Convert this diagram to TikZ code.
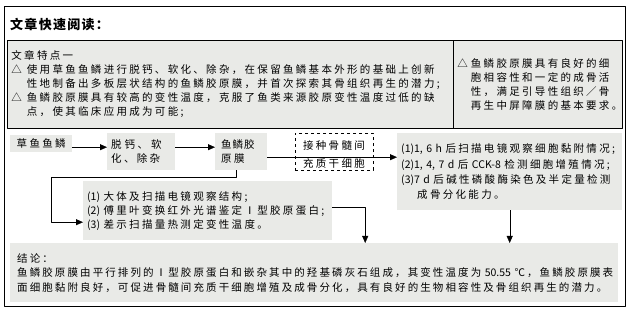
\documentclass[tikz,border=0pt]{standalone}
\usepackage{fontspec}
\setmainfont{Noto Sans CJK SC}[LetterSpace=22]
\newfontfamily\headfont[LetterSpace=10]{Noto Sans CJK SC}
\newfontfamily\numfont{Noto Sans CJK SC}
\usetikzlibrary{arrows.meta}
\definecolor{boxgray}{RGB}{233,234,231}

\begin{document}
\begin{tikzpicture}[x=1pt, y=-1pt, line join=round, >={Triangle[length=7pt,width=6pt]},
	font=\fontsize{10.5}{14}\selectfont,
	graybox/.style={fill=boxgray, inner xsep=4pt, inner ysep=0pt, align=left, anchor=north west},
	txt/.style={inner sep=0pt, align=left, anchor=west}]
	\useasboundingbox (0,0) rectangle (630,315);
	\draw[line width=1pt] (4,7) rectangle (625,307);
	\node[txt, font=\headfont\bfseries\fontsize{13}{15}\selectfont] (title) at (10,25) {文章快速阅读：};
	% article features
	\node[graybox, draw, line width=0.8pt, text width=438pt, minimum height=88pt] (featL) at (7,40)
		{文章特点一\\
		△\kern5pt 使用草鱼鱼鳞进行脱钙、软化、除杂，在保留鱼鳞基本外形的基础上创新\\
		\phantom{△}\kern5pt 性地制备出多板层状结构的鱼鳞胶原膜，并首次探索其骨组织再生的潜力;\\
		△\kern5pt 鱼鳞胶原膜具有较高的变性温度，克服了鱼类来源胶原变性温度过低的缺\\
		\phantom{△}\kern5pt 点，使其临床应用成为可能;};
	\node[graybox, draw, line width=0.8pt, text width=161pt, minimum height=88pt] (featR) at (453,40)
		{△\kern3pt 鱼鳞胶原膜具有良好的细\\
		\phantom{△}\kern3pt 胞相容性和一定的成骨活\\
		\phantom{△}\kern3pt 性，满足引导性组织／骨\\
		\phantom{△}\kern3pt 再生中屏障膜的基本要求。};
	% flow
	\node[graybox, align=center, text width=54pt, minimum height=17pt] (fish) at (10,135) {草鱼鱼鳞};
	\node[graybox, text width=60pt, minimum height=37pt] (treat) at (107,133)
		{脱\hspace{3pt}钙、\hspace{3pt}软\\化、除杂};
	\node[graybox, inner xsep=6pt, text width=40pt, minimum height=37pt] (memb) at (215,133)
		{鱼\hspace{1pt}鳞\hspace{1pt}胶\\原膜};
	\node[draw, dashed, anchor=north west, minimum width=78pt, minimum height=37pt] (cells) at (295,133) {};
	\node[inner sep=0pt] (cellsA) at (334,146) {接种骨髓间};
	\node[inner sep=0pt] (cellsB) at (334,164) {充质干细胞};
	\node[graybox, font=\fontsize{10.5}{15.3}\selectfont, text width=217pt, minimum height=77pt] (result) at (397,133)
		{{\numfont (1)1,~6~h}~后扫描电镜观察细胞黏附情况;\\
		{\numfont (2)1,~4,~7~d}~后~{\numfont CCK-8}~检测细胞增殖情况;\\
		{\numfont (3)7~d}~后碱性磷酸酶染色及半定量检测\\
		\hspace{16pt}成骨分化能力。};
	\node[graybox, text width=241pt, minimum height=59pt] (test) at (83,181)
		{{\numfont (1)}~大体及扫描电镜观察结构;\\
		{\numfont (2)}~傅里叶变换红外光谱鉴定Ⅰ型胶原蛋白;\\
		{\numfont (3)}~差示扫描量热测定变性温度。};
	\node[graybox, inner xsep=7pt, font=\fontsize{10.5}{14.5}\selectfont\addfontfeatures{LetterSpace=20}, text width=594pt, minimum height=59pt] (concl) at (10,243)
		{结论：\\
		鱼鳞胶原膜由平行排列的Ⅰ型胶原蛋白和嵌杂其中的羟基磷灰石组成，其变性温度为~{\numfont 50.55}~℃，鱼鳞胶原膜表\\
		面细胞黏附良好，可促进骨髓间充质干细胞增殖及成骨分化，具有良好的生物相容性及骨组织再生的潜力。};
	% connectors
	\coordinate (bend) at (51,177);
	\draw[->] ([yshift=-3.5pt]fish.east) -- ([yshift=-3.5pt]fish.east -| treat.west);
	\draw[->] ([yshift=4.5pt]treat.east) -- ([yshift=4.5pt]treat.east -| memb.west);
	\draw[->] ([yshift=-5.5pt]memb.east) -- ([yshift=-5.5pt]memb.east -| result.west);
	\draw[->] ([xshift=-5pt]memb.south) |- (bend) |- ([yshift=-11.5pt]test.west);
	\draw[->] ([yshift=3.5pt]test.east) -| ([xshift=51pt]concl.north);
	\draw[->] (result.south) -- (result.south |- concl.north);
\end{tikzpicture}
\end{document}
